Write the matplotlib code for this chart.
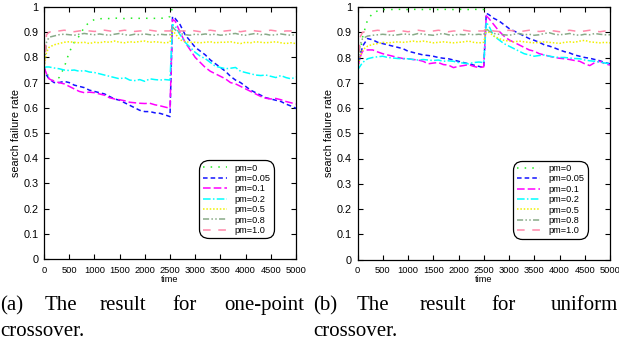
import matplotlib
matplotlib.use('Agg')
import matplotlib.pyplot as plt

plt.rcParams['font.family'] = ['Liberation Sans', 'DejaVu Sans']

# time grid (finer around the change at t=2500)
time = [0, 50] + list(range(100, 2501, 100)) + [2550] + list(range(2600, 5001, 100))

labels = ['pm=0', 'pm=0.05', 'pm=0.1', 'pm=0.2', 'pm=0.5', 'pm=0.8', 'pm=1.0']

# ---- (a) one-point crossover ----
a_pm0 = [0.76, 0.74, 0.72, 0.705, 0.72, 0.76, 0.82, 0.86, 0.885, 0.92, 0.94, 0.95, 0.953, 0.955,
         0.954, 0.956, 0.955, 0.954, 0.956, 0.955, 0.955, 0.956, 0.954, 0.955, 0.956, 0.955, 0.962,
         1.0, 1.0, 1.0, 1.0, 1.0, 1.0, 1.0, 1.0, 1.0, 1.0, 1.0, 1.0, 1.0,
         1.0, 1.0, 1.0, 1.0, 1.0, 1.0, 1.0, 1.0, 1.0, 1.0, 1.0, 1.0, 1.0]
a_pm005 = [0.76, 0.73, 0.715, 0.70, 0.70, 0.705, 0.70, 0.69, 0.685, 0.68, 0.67, 0.665, 0.66, 0.655,
           0.645, 0.635, 0.63, 0.62, 0.61, 0.60, 0.59, 0.585, 0.585, 0.58, 0.578, 0.572, 0.565,
           0.962, 0.955, 0.93, 0.89, 0.865, 0.84, 0.825, 0.81, 0.79, 0.775, 0.76, 0.745, 0.725,
           0.71, 0.70, 0.685, 0.67, 0.66, 0.65, 0.64, 0.635, 0.63, 0.625, 0.615, 0.607, 0.598]
a_pm01 = [0.76, 0.735, 0.715, 0.705, 0.70, 0.695, 0.685, 0.675, 0.665, 0.66, 0.662, 0.66, 0.655,
          0.65, 0.64, 0.635, 0.632, 0.628, 0.622, 0.62, 0.618, 0.617, 0.618, 0.612, 0.608, 0.603, 0.598,
          0.95, 0.945, 0.90, 0.86, 0.83, 0.80, 0.78, 0.76, 0.745, 0.735, 0.725, 0.715, 0.70,
          0.695, 0.685, 0.675, 0.665, 0.655, 0.645, 0.638, 0.635, 0.637, 0.632, 0.625, 0.62, 0.615]
a_pm02 = [0.76, 0.762, 0.762, 0.758, 0.755, 0.75, 0.748, 0.75, 0.745, 0.748, 0.742, 0.74, 0.735,
          0.73, 0.725, 0.72, 0.715, 0.72, 0.71, 0.708, 0.712, 0.705, 0.715, 0.712, 0.71, 0.712, 0.71,
          0.93, 0.925, 0.89, 0.86, 0.84, 0.82, 0.805, 0.795, 0.78, 0.765, 0.76, 0.755, 0.757,
          0.76, 0.745, 0.74, 0.735, 0.73, 0.728, 0.73, 0.725, 0.72, 0.728, 0.72, 0.715, 0.722]
a_pm05 = [0.76, 0.82, 0.84, 0.85, 0.855, 0.86, 0.862, 0.86, 0.858, 0.86, 0.855, 0.86, 0.858,
          0.862, 0.86, 0.865, 0.86, 0.858, 0.862, 0.86, 0.863, 0.865, 0.86, 0.862, 0.86, 0.858, 0.86,
          0.905, 0.895, 0.87, 0.862, 0.86, 0.86, 0.858, 0.86, 0.862, 0.858, 0.86, 0.86, 0.862,
          0.858, 0.855, 0.86, 0.858, 0.862, 0.86, 0.858, 0.86, 0.862, 0.858, 0.855, 0.858, 0.855]
a_pm08 = [0.76, 0.86, 0.88, 0.885, 0.89, 0.892, 0.89, 0.888, 0.892, 0.895, 0.892, 0.89, 0.893,
          0.89, 0.888, 0.892, 0.895, 0.89, 0.888, 0.892, 0.89, 0.893, 0.89, 0.888, 0.892, 0.89, 0.89,
          0.92, 0.91, 0.895, 0.89, 0.888, 0.892, 0.89, 0.893, 0.89, 0.892, 0.888, 0.89, 0.893,
          0.895, 0.89, 0.888, 0.892, 0.895, 0.89, 0.892, 0.888, 0.89, 0.893, 0.89, 0.888, 0.89]
a_pm10 = [0.76, 0.89, 0.90, 0.905, 0.905, 0.908, 0.905, 0.902, 0.905, 0.908, 0.905, 0.903, 0.905,
          0.908, 0.905, 0.902, 0.905, 0.908, 0.905, 0.903, 0.905, 0.905, 0.908, 0.905, 0.902, 0.905, 0.905,
          0.915, 0.91, 0.905, 0.905, 0.908, 0.905, 0.902, 0.905, 0.908, 0.905, 0.903, 0.905, 0.907,
          0.905, 0.902, 0.905, 0.908, 0.905, 0.903, 0.905, 0.908, 0.905, 0.902, 0.905, 0.905, 0.903]

# ---- (b) uniform crossover ----
b_pm0 = [0.76, 0.82, 0.88, 0.95, 0.975, 0.985, 0.99, 0.99, 0.99, 0.991, 0.99, 0.99, 0.991,
         0.99, 0.99, 0.991, 0.99, 0.99, 0.991, 0.99, 0.99, 0.991, 0.99, 0.99, 0.991, 0.99, 0.99,
         1.0, 1.0, 1.0, 1.0, 1.0, 1.0, 1.0, 1.0, 1.0, 1.0, 1.0, 1.0, 1.0,
         1.0, 1.0, 1.0, 1.0, 1.0, 1.0, 1.0, 1.0, 1.0, 1.0, 1.0, 1.0, 1.0]
b_pm005 = [0.76, 0.80, 0.845, 0.875, 0.87, 0.86, 0.855, 0.85, 0.845, 0.84, 0.835, 0.825, 0.82,
           0.815, 0.81, 0.808, 0.805, 0.80, 0.797, 0.795, 0.79, 0.785, 0.78, 0.775, 0.77, 0.765, 0.76,
           0.975, 0.97, 0.955, 0.945, 0.93, 0.915, 0.905, 0.895, 0.885, 0.875, 0.868, 0.86, 0.85,
           0.845, 0.838, 0.83, 0.823, 0.818, 0.81, 0.805, 0.80, 0.797, 0.792, 0.787, 0.78, 0.775]
b_pm01 = [0.76, 0.80, 0.825, 0.83, 0.83, 0.822, 0.815, 0.81, 0.805, 0.80, 0.796, 0.795, 0.792,
          0.79, 0.785, 0.775, 0.778, 0.78, 0.772, 0.77, 0.76, 0.765, 0.768, 0.772, 0.765, 0.76, 0.763,
          0.965, 0.955, 0.93, 0.905, 0.885, 0.87, 0.86, 0.85, 0.84, 0.83, 0.825, 0.815, 0.81,
          0.805, 0.80, 0.797, 0.795, 0.792, 0.788, 0.785, 0.775, 0.768, 0.78, 0.785, 0.775, 0.77]
b_pm02 = [0.75, 0.765, 0.78, 0.795, 0.80, 0.803, 0.805, 0.80, 0.798, 0.796, 0.795, 0.795, 0.792,
          0.79, 0.792, 0.79, 0.788, 0.79, 0.785, 0.787, 0.785, 0.78, 0.778, 0.775, 0.78, 0.782, 0.78,
          0.94, 0.925, 0.885, 0.87, 0.855, 0.845, 0.835, 0.825, 0.815, 0.81, 0.805, 0.808, 0.81,
          0.805, 0.802, 0.80, 0.80, 0.798, 0.796, 0.795, 0.79, 0.787, 0.785, 0.782, 0.778, 0.775]
b_pm05 = [0.76, 0.80, 0.83, 0.845, 0.852, 0.855, 0.86, 0.858, 0.86, 0.862, 0.86, 0.862, 0.865,
          0.862, 0.865, 0.862, 0.858, 0.86, 0.862, 0.86, 0.858, 0.86, 0.862, 0.865, 0.86, 0.858, 0.86,
          0.91, 0.90, 0.885, 0.875, 0.868, 0.865, 0.862, 0.865, 0.862, 0.86, 0.858, 0.86, 0.862,
          0.86, 0.858, 0.856, 0.86, 0.862, 0.86, 0.865, 0.868, 0.862, 0.86, 0.858, 0.86, 0.858]
b_pm08 = [0.76, 0.85, 0.875, 0.885, 0.888, 0.89, 0.892, 0.89, 0.888, 0.89, 0.893, 0.892, 0.89,
          0.895, 0.892, 0.89, 0.888, 0.892, 0.895, 0.89, 0.888, 0.892, 0.89, 0.893, 0.89, 0.892, 0.89,
          0.915, 0.905, 0.895, 0.892, 0.89, 0.888, 0.892, 0.895, 0.89, 0.892, 0.888, 0.89, 0.895,
          0.898, 0.892, 0.89, 0.892, 0.895, 0.89, 0.888, 0.892, 0.89, 0.895, 0.892, 0.89, 0.89]
b_pm10 = [0.76, 0.88, 0.90, 0.903, 0.905, 0.908, 0.905, 0.903, 0.905, 0.908, 0.905, 0.902, 0.905,
          0.908, 0.905, 0.903, 0.905, 0.908, 0.905, 0.902, 0.905, 0.905, 0.908, 0.905, 0.903, 0.905, 0.905,
          0.915, 0.91, 0.905, 0.903, 0.905, 0.908, 0.905, 0.902, 0.905, 0.908, 0.905, 0.903, 0.905,
          0.907, 0.905, 0.902, 0.905, 0.908, 0.905, 0.903, 0.905, 0.908, 0.905, 0.902, 0.905, 0.905]

colors = ['#22ee22', '#1414ff', '#ff00ff', '#00ffff', '#f0f000', '#88aa88', '#ff88aa']
dashes = [(1, 4), (3, 2), (5, 2), (5, 1.5, 1, 1.5), (1, 1.2), (4, 1.5, 1, 1.5, 1, 1.5), (5, 5)]

yticks = [0, 0.1, 0.2, 0.3, 0.4, 0.5, 0.6, 0.7, 0.8, 0.9, 1]
ytick_labels = ['0', '0.1', '0.2', '0.3', '0.4', '0.5', '0.6', '0.7', '0.8', '0.9', '1']
xticks = [0, 500, 1000, 1500, 2000, 2500, 3000, 3500, 4000, 4500, 5000]

W, H = 619, 352
fig = plt.figure(figsize=(W / 100, H / 100), dpi=100)
ax_a = fig.add_axes([44 / W, 1 - 259 / H, 252 / W, 252 / H])
ax_b = fig.add_axes([357.5 / W, 1 - 259.5 / H, 252.5 / W, 252.5 / H])

panels = [(ax_a, [a_pm0, a_pm005, a_pm01, a_pm02, a_pm05, a_pm08, a_pm10]),
          (ax_b, [b_pm0, b_pm005, b_pm01, b_pm02, b_pm05, b_pm08, b_pm10])]

for ax, series in panels:
    for ys, lab, c, d in zip(series, labels, colors, dashes):
        ax.plot(time, ys, color=c, lw=1.1, dashes=d, label=lab)
    ax.set_xlim(0, 5000)
    ax.set_ylim(0, 1)
    ax.set_xticks(xticks)
    ax.set_yticks(yticks)
    ax.set_yticklabels(ytick_labels)
    ax.tick_params(direction='in', top=True, right=True, length=3.5, width=0.8)
    ax.tick_params(axis='x', labelsize=6.7, pad=5)
    ax.tick_params(axis='y', labelsize=7.8, pad=4)
    for sp in ax.spines.values():
        sp.set_linewidth(0.9)
    ax.set_xlabel('time', fontsize=6.7, labelpad=0)
    ax.set_ylabel('search failure rate', fontsize=7.8, labelpad=2)
    leg = ax.legend(loc='lower left', bbox_to_anchor=(0.617, 0.083), fontsize=6.6,
                    handlelength=2.6, handletextpad=0.9, labelspacing=0.15,
                    borderpad=0.35, frameon=True, fancybox=True, borderaxespad=0)
    fr = leg.get_frame()
    fr.set_edgecolor('black')
    fr.set_linewidth(0.9)
    fr.set_alpha(1)
    fr.set_boxstyle('round,pad=0,rounding_size=1.0')

# captions (justified text lines as in the paper)
cap = dict(fontsize=15, family='Liberation Serif', va='baseline', ha='left')
words_a = [('(a)', 0), ('The', 45), ('result', 100), ('for', 172), ('one-point', 224)]
words_b = [('(b)', 313), ('The', 357), ('result', 420), ('for', 491), ('uniform', 551)]
for w, x in words_a + words_b:
    fig.text(x / W, 1 - 310 / H, w, **cap)
fig.text(0 / W, 1 - 336 / H, 'crossover.', **cap)
fig.text(313 / W, 1 - 336 / H, 'crossover.', **cap)

fig.savefig('out.png', dpi=100)
